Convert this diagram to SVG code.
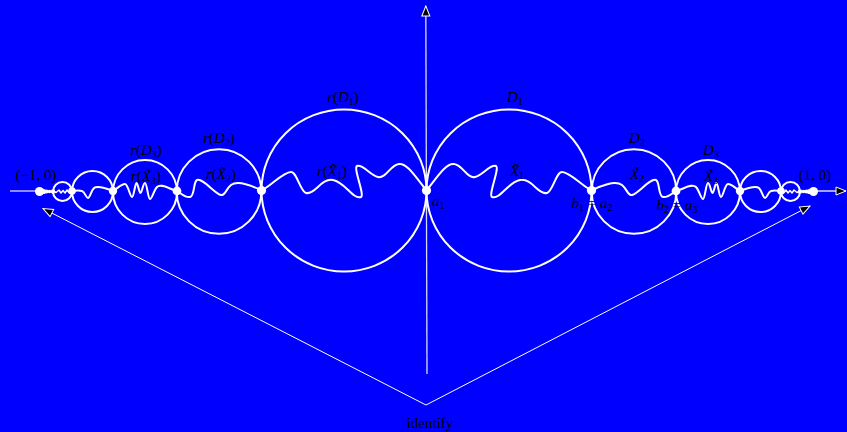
<svg xmlns="http://www.w3.org/2000/svg" xmlns:xlink="http://www.w3.org/1999/xlink" width="847" height="432" viewBox="0 0 847 432">
<style>
.circ{fill:none;stroke:#fff;stroke-width:2}
.wig{fill:none;stroke:#fff;stroke-width:2;stroke-linejoin:round;stroke-linecap:round}
.dot{fill:#fff}
.axis{fill:none;stroke:#fff;stroke-width:1.3;stroke-opacity:0.85}
.thin{fill:none;stroke:#fff;stroke-width:1}
.lbl{font-family:"Liberation Serif","DejaVu Serif",serif;font-size:15px;fill:#000}
.it{font-style:italic}
.sub{font-size:10px}
</style>
<defs>
<marker id="ah" markerUnits="userSpaceOnUse" markerWidth="12" markerHeight="10" viewBox="0 0 12 10" refX="11" refY="5" orient="auto">
<path d="M1,1 L11,5 L1,9 z" fill="#000" stroke="#fff" stroke-width="1"/>
</marker>
</defs>
<rect x="0" y="0" width="847" height="432" fill="#0000ff"/>

<g id="connectors">
<line class="axis" x1="427" y1="374" x2="425.8" y2="6" marker-end="url(#ah)"/>
<line class="axis" x1="10" y1="191" x2="40" y2="191"/>
<line class="axis" x1="813" y1="191" x2="846" y2="191" marker-end="url(#ah)"/>
<line class="thin" x1="426" y1="405" x2="43" y2="208.5" marker-end="url(#ah)"/>
<line class="thin" x1="426" y1="405" x2="810" y2="206" marker-end="url(#ah)"/>
</g>

<g id="chain-right">
<g id="D1">
<ellipse class="circ" cx="509" cy="190.5" rx="82.5" ry="81"/>
<path class="wig" d="M426.5,190.5 C438,176 446,163 454,164 C463,165 467,179 475,177 C483,175 490,164 496,166 C500,168 488,195 492,197 C500,200 508,182 520,180 C532,178 538,195 547,193 C553,191 556,172 562,172 C570,172 582,186 591.5,190.5"/>
</g>
<g id="D2">
<circle class="circ" cx="634" cy="191.5" r="42.3"/>
<path class="wig" d="M591.5,190.5 C600,186 615,180 622,185 C627,189 628,196 632,195 C638,194 650,178 656,180 C660,182 658,196 663,197 C668,198 672,193 676,191"/>
</g>
<g id="D3">
<circle class="circ" cx="708" cy="192" r="32"/>
<path class="wig" d="M676,191 C684,189 692,183 696,187 C699,190 701,199 703,199 C705,199 706,183 708,183 C710,183 711,193 712.5,193 C714,193 715,183 716.5,183 C718,183 719,197 721,197 C723,197 725,184 728,184 C732,184 736,189 740,191"/>
</g>
<g id="D4">
<circle class="circ" cx="760.5" cy="191.5" r="20.5"/>
<path class="wig" d="M740,191 C745,189 755,185 759,188 C762,191 763,198 765,198 C767,198 768,192 771,191 C775,190 778,191 781,191"/>
</g>
<g id="D5">
<circle class="circ" cx="790.5" cy="191.5" r="9.5"/>
<path class="wig" style="stroke-width:1.5" d="M781,191 L784,192.5 L786,190 L788,193 L790,190.5 L792,193 L794,190 L797,192.5 L800,191"/>
</g>
<g id="tail">
<line class="wig" x1="800" y1="191.5" x2="813" y2="191.5" style="stroke-width:1.5"/>
<circle class="dot" cx="800" cy="191.5" r="2.2"/>
<circle class="dot" cx="803.5" cy="191.5" r="1.8"/>
<circle class="dot" cx="806.5" cy="191.5" r="2"/>
<circle class="dot" cx="809.5" cy="191.5" r="2.6"/>
<circle class="dot" cx="813.5" cy="191.5" r="4.5"/>
</g>
<g id="points">
<circle class="dot" cx="591.5" cy="190.5" r="4.6"/>
<circle class="dot" cx="676" cy="191" r="4.4"/>
<circle class="dot" cx="740" cy="191" r="4.2"/>
<circle class="dot" cx="781" cy="191" r="3.8"/>
</g>
</g>
<use id="chain-left" xlink:href="#chain-right" transform="translate(853,0) scale(-1,1)"/>
<circle id="a1" class="dot" cx="426.5" cy="190.5" r="4.6"/>

<g id="labels" class="lbl">
<text x="343" y="102" text-anchor="middle"><tspan class="it">r</tspan>(<tspan class="it">D</tspan><tspan class="sub" dy="3">1</tspan><tspan dy="-3">)</tspan></text>
<text x="515" y="102" text-anchor="middle"><tspan class="it">D</tspan><tspan class="sub" dy="3">1</tspan></text>
<text x="332" y="176" text-anchor="middle"><tspan class="it">r</tspan>(<tspan class="it">X̃</tspan><tspan class="sub" dy="3">1</tspan><tspan dy="-3">)</tspan></text>
<text x="517" y="176" text-anchor="middle"><tspan class="it">X̃</tspan><tspan class="sub" dy="3">1</tspan></text>
<text x="432" y="206"><tspan class="it">a</tspan><tspan class="sub" dy="3">1</tspan></text>
<text x="592" y="208" text-anchor="middle"><tspan class="it">b</tspan><tspan class="sub" dy="3">1</tspan><tspan dy="-3"> = </tspan><tspan class="it">a</tspan><tspan class="sub" dy="3">2</tspan></text>
<text x="677" y="210" text-anchor="middle"><tspan class="it">b</tspan><tspan class="sub" dy="3">2</tspan><tspan dy="-3"> = </tspan><tspan class="it">a</tspan><tspan class="sub" dy="3">3</tspan></text>
<text x="637" y="143" text-anchor="middle"><tspan class="it">D</tspan><tspan class="sub" dy="3">2</tspan></text>
<text x="637" y="179" text-anchor="middle"><tspan class="it">X̃</tspan><tspan class="sub" dy="3">2</tspan></text>
<text x="711" y="155" text-anchor="middle"><tspan class="it">D</tspan><tspan class="sub" dy="3">3</tspan></text>
<text x="711" y="181" text-anchor="middle"><tspan class="it">X̃</tspan><tspan class="sub" dy="3">3</tspan></text>
<text x="219" y="143" text-anchor="middle"><tspan class="it">r</tspan>(<tspan class="it">D</tspan><tspan class="sub" dy="3">2</tspan><tspan dy="-3">)</tspan></text>
<text x="221" y="179" text-anchor="middle"><tspan class="it">r</tspan>(<tspan class="it">X̃</tspan><tspan class="sub" dy="3">2</tspan><tspan dy="-3">)</tspan></text>
<text x="146" y="155" text-anchor="middle"><tspan class="it">r</tspan>(<tspan class="it">D</tspan><tspan class="sub" dy="3">3</tspan><tspan dy="-3">)</tspan></text>
<text x="146" y="181" text-anchor="middle"><tspan class="it">r</tspan>(<tspan class="it">X̃</tspan><tspan class="sub" dy="3">3</tspan><tspan dy="-3">)</tspan></text>
<text x="36" y="180" text-anchor="middle">(−1, 0)</text>
<text x="815" y="180" text-anchor="middle">(1, 0)</text>
<text x="430" y="428" text-anchor="middle">identify</text>
</g>
</svg>
